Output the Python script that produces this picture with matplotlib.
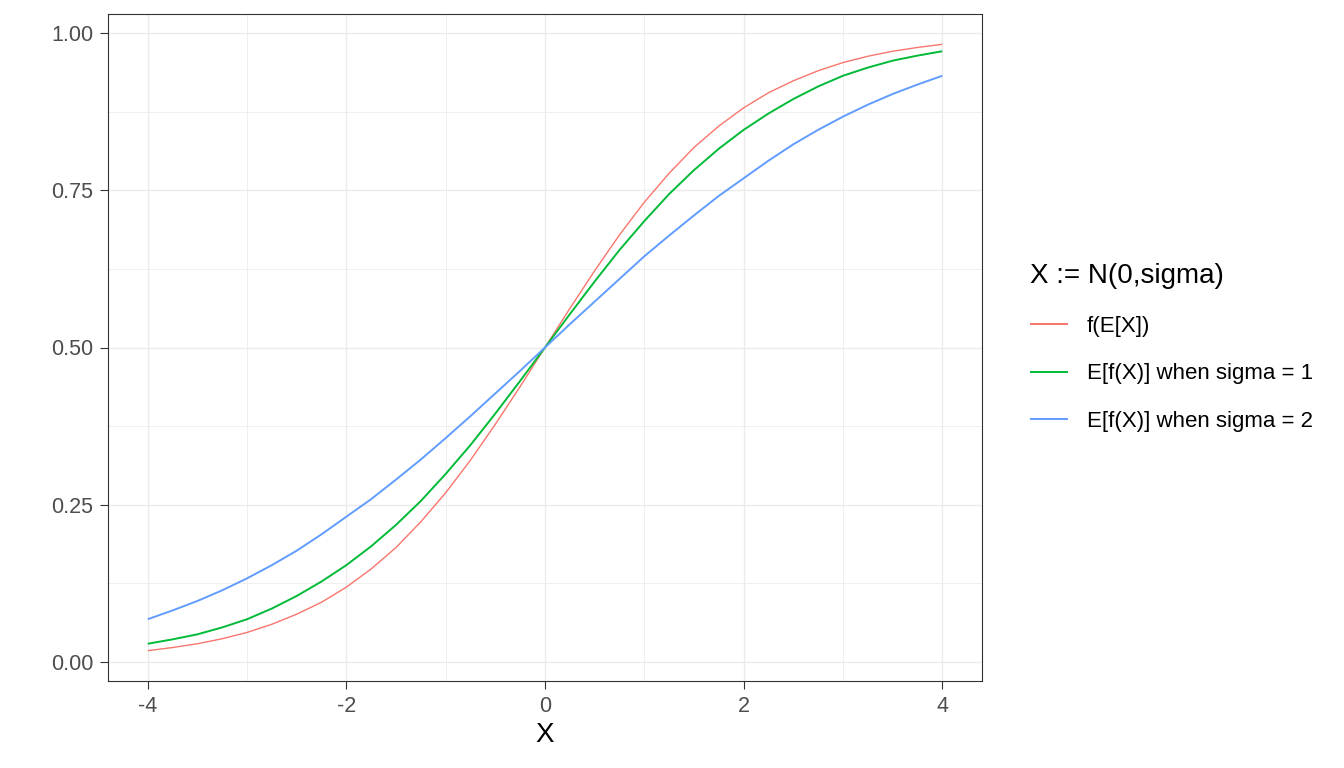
import numpy as np
import matplotlib.pyplot as plt
from matplotlib.ticker import FixedLocator

plt.rcParams['font.family'] = ['Liberation Sans', 'DejaVu Sans']

# Valores (passo de 0.25 em X)
x_vals = [-4.0, -3.75, -3.5, -3.25, -3.0, -2.75, -2.5, -2.25, -2.0, -1.75, -1.5,
          -1.25, -1.0, -0.75, -0.5, -0.25, 0.0, 0.25, 0.5, 0.75, 1.0, 1.25, 1.5,
          1.75, 2.0, 2.25, 2.5, 2.75, 3.0, 3.25, 3.5, 3.75, 4.0]

f_ex = [0.018, 0.023, 0.029, 0.037, 0.047, 0.060, 0.076, 0.095, 0.119, 0.148,
        0.182, 0.223, 0.269, 0.321, 0.378, 0.438, 0.500, 0.562, 0.622, 0.679,
        0.731, 0.777, 0.818, 0.852, 0.881, 0.905, 0.924, 0.940, 0.953, 0.963,
        0.971, 0.977, 0.982]

e_f_sigma1 = [0.029, 0.036, 0.044, 0.055, 0.068, 0.085, 0.105, 0.128, 0.154,
              0.184, 0.218, 0.256, 0.299, 0.345, 0.395, 0.447, 0.500, 0.553,
              0.605, 0.655, 0.701, 0.744, 0.782, 0.816, 0.846, 0.872, 0.895,
              0.915, 0.932, 0.945, 0.956, 0.964, 0.971]

e_f_sigma2 = [0.068, 0.082, 0.097, 0.114, 0.133, 0.154, 0.177, 0.203, 0.231,
              0.259, 0.290, 0.322, 0.356, 0.391, 0.427, 0.463, 0.500, 0.537,
              0.573, 0.609, 0.645, 0.678, 0.710, 0.741, 0.769, 0.797, 0.823,
              0.846, 0.867, 0.886, 0.903, 0.918, 0.932]

series_labels = ['f(E[X])', 'E[f(X)] when sigma = 1', 'E[f(X)] when sigma = 2']
cores = ['#F8766D', '#00BA38', '#619CFF']

x_ticks = [-4, -2, 0, 2, 4]
y_ticks = [0.0, 0.25, 0.5, 0.75, 1.0]
y_tick_labels = ['0.00', '0.25', '0.50', '0.75', '1.00']

fig = plt.figure(figsize=(13.44, 7.68), dpi=100)
ax = fig.add_axes([108 / 1344, 1 - 681 / 768, (982 - 108) / 1344, (681 - 14) / 768])

for serie, label, cor, lw in zip([f_ex, e_f_sigma1, e_f_sigma2], series_labels, cores, [1.0, 1.4, 1.4]):
    ax.plot(x_vals, serie, color=cor, lw=lw, label=label, solid_capstyle='butt')

ax.set_xlim(-4.4, 4.4)
ax.set_ylim(-0.0302, 1.0302)

ax.xaxis.set_major_locator(FixedLocator(x_ticks))
ax.xaxis.set_minor_locator(FixedLocator([-3, -1, 1, 3]))
ax.yaxis.set_major_locator(FixedLocator(y_ticks))
ax.yaxis.set_minor_locator(FixedLocator([0.125, 0.375, 0.625, 0.875]))
ax.set_yticklabels(y_tick_labels)
ax.set_xticklabels([str(t) for t in x_ticks])

ax.grid(which='major', color='#EBEBEB', lw=1.0)
ax.grid(which='minor', color='#EBEBEB', lw=0.55)
ax.set_axisbelow(True)

for spine in ax.spines.values():
    spine.set_color('#333333')
    spine.set_linewidth(0.8)

ax.tick_params(which='major', length=5.5, width=0.8, color='#333333',
               labelsize=15.5, labelcolor='#4D4D4D', pad=5)
ax.tick_params(which='minor', length=0)

ax.set_xlabel('X', fontsize=20, labelpad=4)

leg = ax.legend(title='X := N(0,sigma)', loc='center left',
                bbox_to_anchor=(1.045, 0.50), frameon=False, fontsize=16,
                title_fontsize=20, handlelength=1.7, handletextpad=0.85,
                labelspacing=1.2, alignment='left', borderaxespad=0)
for linha in leg.get_lines():
    linha.set_linewidth(1.4)

plt.savefig('out.png', dpi=100)
